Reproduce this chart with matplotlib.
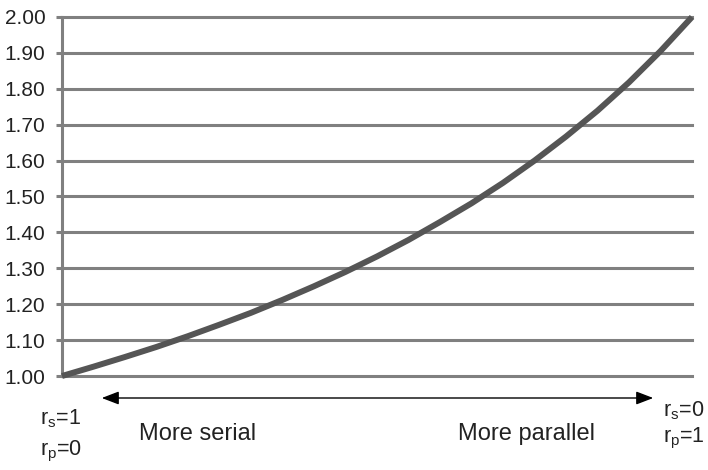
import matplotlib
matplotlib.use("Agg")
import matplotlib.pyplot as plt

# Data
x_share = [0.00, 0.05, 0.10, 0.15, 0.20, 0.25, 0.30, 0.35, 0.40, 0.45, 0.50,
           0.55, 0.60, 0.65, 0.70, 0.75, 0.80, 0.85, 0.90, 0.95, 1.00]
speedup = [1.000, 1.026, 1.053, 1.081, 1.111, 1.143, 1.176, 1.212, 1.250, 1.290, 1.333,
           1.379, 1.429, 1.481, 1.538, 1.600, 1.667, 1.739, 1.818, 1.905, 2.000]
y_ticks = [1.00, 1.10, 1.20, 1.30, 1.40, 1.50, 1.60, 1.70, 1.80, 1.90, 2.00]
y_tick_labels = ["1.00", "1.10", "1.20", "1.30", "1.40", "1.50", "1.60", "1.70", "1.80", "1.90", "2.00"]

plt.rcParams['font.family'] = ['Liberation Sans', 'DejaVu Sans']
plt.rcParams['mathtext.default'] = 'regular'

W, H = 708, 470
fig = plt.figure(figsize=(W / 100, H / 100), dpi=100)
ax = fig.add_axes([62 / W, 94 / H, 630 / W, 359 / H])

grid_c = '#808080'
for yv in y_ticks:
    ax.axhline(yv, color=grid_c, lw=2.2, zorder=1, clip_on=False)

ax.plot(x_share, speedup, color='#555555', lw=4.3, solid_capstyle='butt', zorder=3, clip_on=False)

ax.set_xlim(0, 1)
ax.set_ylim(1.0, 2.0)
ax.set_yticks(y_ticks)
ax.set_yticklabels(y_tick_labels, fontsize=15, color='#222222')
ax.set_xticks([])
for s in ['top', 'right', 'bottom']:
    ax.spines[s].set_visible(False)
ax.spines['left'].set_color(grid_c)
ax.spines['left'].set_linewidth(2.2)
ax.tick_params(axis='y', length=4, width=2.2, color=grid_c, pad=8)

def fx(px):
    return px / W

def fy(py):
    return 1 - py / H

fig.add_artist(matplotlib.patches.FancyArrowPatch(
    (fx(99), fy(398)), (fx(656), fy(398)), transform=fig.transFigure,
    arrowstyle='<|-|>,head_length=6.5,head_width=2.5', color='black', lw=1.0,
    mutation_scale=1.6))

tc = '#222222'
fs_r = 15.5
fig.text(fx(40), fy(419), r'$r_s$=1', fontsize=fs_r, va='center', ha='left', color=tc)
fig.text(fx(40), fy(451), r'$r_p$=0', fontsize=fs_r, va='center', ha='left', color=tc)
fig.text(fx(663), fy(411), r'$r_s$=0', fontsize=fs_r, va='center', ha='left', color=tc)
fig.text(fx(663), fy(438), r'$r_p$=1', fontsize=fs_r, va='center', ha='left', color=tc)
fig.text(fx(139), fy(434), 'More serial', fontsize=17, va='center', ha='left', color=tc)
fig.text(fx(458), fy(434), 'More parallel', fontsize=17, va='center', ha='left', color=tc)

fig.savefig('out.png', dpi=100)
